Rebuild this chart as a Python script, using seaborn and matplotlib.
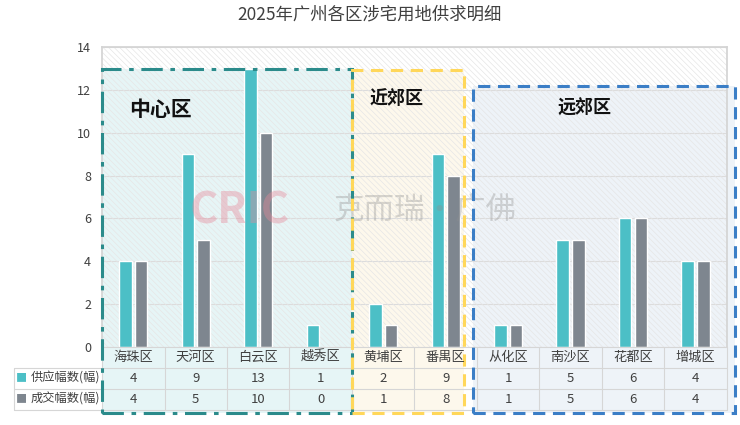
import matplotlib
matplotlib.use("Agg")
import matplotlib.pyplot as plt
import matplotlib.transforms as mtransforms
from matplotlib.patches import Rectangle
import numpy as np
import pandas as pd
import seaborn as sns

# data
districts = ['海珠区', '天河区', '白云区', '越秀区', '黄埔区',
             '番禺区', '从化区', '南沙区', '花都区', '增城区']
supply = [4, 9, 13, 1, 2, 9, 1, 5, 6, 4]
deal = [4, 5, 10, 0, 1, 8, 1, 5, 6, 4]
series_names = ['供应幅数(幅)', '成交幅数(幅)']
series_colors = ['#4cbfc6', '#7e868f']
title = '2025年广州各区涉宅用地供求明细'

sns.set_theme(style='white')
plt.rcParams['font.family'] = ['Noto Sans CJK SC', 'DejaVu Sans']
plt.rcParams['hatch.linewidth'] = 0.5

df = pd.DataFrame({'区': districts * 2,
                   '幅数': supply + deal,
                   '类别': [series_names[0]] * len(districts) + [series_names[1]] * len(districts)})

fig = plt.figure(figsize=(7.4, 4.25), dpi=100)
ax = fig.add_axes([0.138, 0.184, 0.844, 0.705])

sns.barplot(data=df, x='区', y='幅数', hue='类别', hue_order=series_names,
            palette=series_colors, width=0.5, gap=0.2, legend=False,
            saturation=1, ax=ax, zorder=3)

ax.set_xlim(-0.5, 9.5)
ax.set_ylim(0, 14)
ax.set_yticks(np.arange(0, 15, 2))
ax.tick_params(axis='y', labelsize=9, colors='#404040', length=0, pad=8)
ax.set_xticks([])
ax.set_xlabel('')
ax.set_ylabel('')
ax.yaxis.grid(True, color='#dcdcdc', lw=0.8, zorder=1)
ax.set_axisbelow(True)
for side in ['top', 'right', 'left']:
    ax.spines[side].set_color('#d4d4d4')
ax.spines['bottom'].set_visible(False)

# faint hatched background
ax.add_patch(Rectangle((0, 0), 1, 1, transform=ax.transAxes, facecolor='none',
                       edgecolor='#e6e6e6', hatch='\\\\\\\\\\\\', lw=0, zorder=0.8))

# region boxes (fill below, outline on top)
regions = [
    ('中心区', (-0.5, -3.08), 4.0, 16.08, '#e6f5f6', '#2b8b8b', (0, (7, 2.5, 1.5, 2.5)), (0.43, 11.1), 15),
    ('近郊区', (3.5, -3.08), 1.8, 16.0, '#fdf8ec', '#ffd75a', (0, (4, 2.5)), (4.22, 11.6), 13),
    ('远郊区', (5.44, -3.08), 4.2, 15.26, '#eef3f8', '#3b7ec6', (0, (4, 2.5)), (7.23, 11.15), 13),
]
for name, xy, w, h, fc, ec, ls, txy, fs in regions:
    ax.add_patch(Rectangle(xy, w, h, facecolor=fc, edgecolor='none',
                           clip_on=False, zorder=0.5))
    ax.add_patch(Rectangle(xy, w, h, facecolor='none', edgecolor=ec, lw=2.2,
                           linestyle=ls, clip_on=False, zorder=6))
    ax.text(txy[0], txy[1], name, ha='center', va='center', fontsize=fs,
            fontweight='bold', color='#111111', zorder=7)

# watermark
ax.text(0.14, 0.455, 'CRIC', transform=ax.transAxes, fontsize=31, fontweight='bold',
        fontstyle='italic', color='#e6899a', alpha=0.4, va='center', zorder=5)
ax.text(0.37, 0.455, '克而瑞·广佛', transform=ax.transAxes, fontsize=22,
        color='#8f8f8f', alpha=0.35, va='center', zorder=5)

# data table drawn under the axis
blend = mtransforms.blended_transform_factory(ax.transData, ax.transAxes)
row_h = 0.07
line_kw = dict(color='#d6d6d6', lw=0.8, clip_on=False, zorder=4)
n = len(districts)
for k in range(1, 4):
    ax.plot([0, 1], [-row_h * k, -row_h * k], transform=ax.transAxes, **line_kw)
for k in (1, 2, 3):
    ax.plot([-0.141, 0], [-row_h * k, -row_h * k], transform=ax.transAxes, **line_kw)
ax.plot([0, 1], [0, 0], transform=ax.transAxes, **line_kw)
ax.plot([-0.141, -0.141], [-row_h, -3 * row_h], transform=ax.transAxes, **line_kw)
for b in np.arange(-0.5, n, 1.0):
    ax.plot([b, b], [0, -3 * row_h], transform=blend, **line_kw)
ax.add_patch(Rectangle((-0.141, -3 * row_h), 0.141, 2 * row_h, transform=ax.transAxes,
                       facecolor='white', edgecolor='none', clip_on=False, zorder=3))

for i, name in enumerate(districts):
    ax.text(i, -0.5 * row_h, name, transform=blend, ha='center', va='center',
            fontsize=9.5, color='#404040', zorder=7)
    ax.text(i, -1.5 * row_h, str(supply[i]), transform=blend, ha='center', va='center',
            fontsize=9.5, color='#404040', zorder=7)
    ax.text(i, -2.5 * row_h, str(deal[i]), transform=blend, ha='center', va='center',
            fontsize=9.5, color='#404040', zorder=7)

for i, (name, col) in enumerate(zip(series_names, series_colors)):
    yy = -(1.5 + i) * row_h
    ax.text(-0.138, yy, '■', transform=ax.transAxes, color=col, fontsize=8,
            va='center', ha='left', zorder=7)
    ax.text(-0.003, yy, name, transform=ax.transAxes, color='#404040', fontsize=8.8,
            va='center', ha='right', zorder=7)

fig.text(0.5, 0.965, title, ha='center', va='center', fontsize=12.5, color='#404040')

fig.savefig('out.png', dpi=100)
